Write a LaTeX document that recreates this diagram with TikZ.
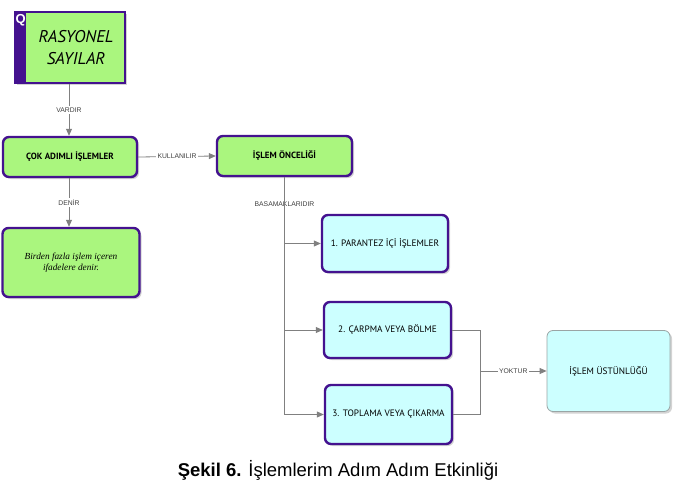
\documentclass[tikz,border=0pt]{standalone}
\usepackage{fontspec}
\setmainfont{Liberation Sans}
\newfontfamily\boxfont{PT Sans}
\newfontfamily\notefont{Liberation Serif}
\usepackage{tikz}
\usetikzlibrary{arrows.meta,positioning,shadows}
\definecolor{leaf}{HTML}{AAF67E}
\definecolor{ice}{HTML}{CCFFFF}
\definecolor{violet}{HTML}{44128F}
\definecolor{wire}{HTML}{808080}
\definecolor{edgegray}{HTML}{9AA5A5}
\tikzset{
  greenbox/.style={rectangle, rounded corners=6pt, draw=violet, line width=2.4pt, fill=leaf,
    drop shadow={shadow xshift=2pt, shadow yshift=-2pt, opacity=0.35}, align=center},
  icebox/.style={rectangle, rounded corners=6pt, draw=violet, line width=2.4pt, fill=ice,
    drop shadow={shadow xshift=2pt, shadow yshift=-2pt, opacity=0.35}, align=center,
    font=\boxfont\fontsize{9.3}{11}\selectfont},
  conn/.style={draw=wire, line width=0.8pt, -{Triangle[length=7pt,width=6pt]}},
  wireline/.style={draw=wire, line width=0.8pt},
  lbl/.style={fill=white, inner sep=1.5pt, text=black!75, font=\fontsize{6.8}{7}\selectfont}
}

\begin{document}
\begin{tikzpicture}[x=1pt,y=-1pt]
\useasboundingbox (0,0) rectangle (678,495);

% title card
\node[rectangle, draw=violet, line width=1.8pt, fill=leaf, minimum width=110pt, minimum height=71pt,
  drop shadow={shadow xshift=2pt, shadow yshift=-2pt, opacity=0.35}] (ras) at (70,47.5) {};
\fill[violet] (ras.north west) rectangle ([xshift=12pt]ras.south west);
\node[text=white, font=\bfseries\fontsize{13}{14}\selectfont] (q) at ([xshift=6.5pt,yshift=-9pt]ras.north west) {Q};
\node[align=center, font=\boxfont\itshape\fontsize{17}{22}\selectfont] (rastxt) at (76,47.5) {RASYONEL\\SAYILAR};

% green boxes
\node[greenbox, minimum width=134pt, minimum height=40pt, font=\boxfont\bfseries\fontsize{9}{10}\selectfont]
  (cok) at (70,157) {ÇOK ADIMLI İŞLEMLER};
\node[greenbox, minimum width=135pt, minimum height=40pt, font=\boxfont\bfseries\fontsize{9}{10}\selectfont]
  (once) at (284.5,156) {İŞLEM ÖNCELİĞİ};
\node[greenbox, minimum width=137pt, minimum height=69pt, font=\notefont\itshape\fontsize{9.3}{11.5}\selectfont]
  (birden) at (71,262.5) {Birden fazla işlem içeren\\ifadelere denir.};

% steps
\node[icebox, minimum width=126pt, minimum height=57pt] (p1) at (385,243.5) {1. PARANTEZ İÇİ İŞLEMLER};
\node[icebox, minimum width=127pt, minimum height=56pt] (p2) at (387.5,330) {2. ÇARPMA VEYA BÖLME};
\node[icebox, minimum width=127pt, minimum height=59pt] (p3) at (388.5,414.5) {3. TOPLAMA VEYA ÇIKARMA};
\node[icebox, draw=edgegray, line width=0.8pt, minimum width=123pt, minimum height=81pt] (ust) at (608.5,371) {İŞLEM ÜSTÜNLÜĞÜ};

% connectors
\draw[conn] (ras.south -| 69,0) -- node[lbl]{VARDIR} (cok.north -| 69,0);
\draw[conn] (cok.east) -- node[lbl]{KULLANILIR} (once.west);
\draw[conn] (cok.south -| 69,0) -- node[lbl]{DENİR} (birden.north -| 69,0);
\draw[conn] (once.south) |- node[lbl, pos=0.2]{BASAMAKLARIDIR} (p1.west);
\draw[conn] (once.south) |- (p2.west);
\draw[conn] (once.south) |- (p3.west);
\coordinate (join) at (480,371);
\draw[wireline] (p2.east) -| (join);
\draw[wireline] (p3.east) -| (join);
\draw[conn] (join) -- node[lbl]{YOKTUR} (ust.west);

% caption
\node[font=\fontsize{18.5}{21}\selectfont] (caption) at (338,470) {\textbf{Şekil 6.} İşlemlerim Adım Adım Etkinliği};
\end{tikzpicture}
\end{document}
